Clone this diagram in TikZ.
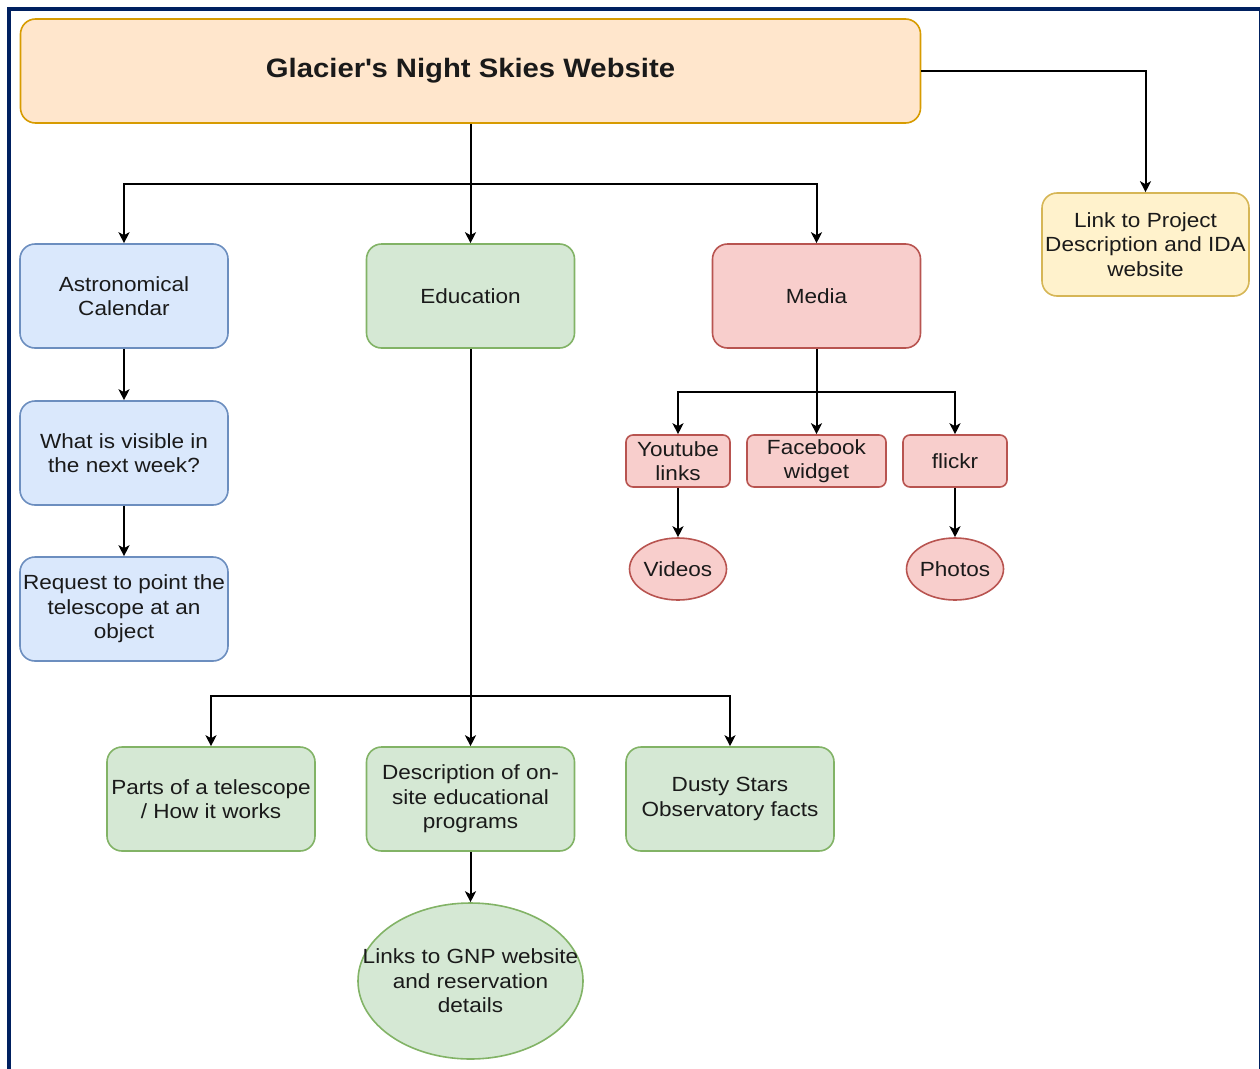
\documentclass[tikz,border=0pt]{standalone}
\usepackage{fontspec}
\setmainfont{Liberation Sans}[FakeStretch=1.1]
\usetikzlibrary{arrows.meta,shapes.geometric}
\definecolor{orfill}{HTML}{FFE6CC}\definecolor{ordraw}{HTML}{D79B00}
\definecolor{yefill}{HTML}{FFF2CC}\definecolor{yedraw}{HTML}{D6B656}
\definecolor{blfill}{HTML}{DAE8FC}\definecolor{bldraw}{HTML}{6C8EBF}
\definecolor{grfill}{HTML}{D5E8D4}\definecolor{grdraw}{HTML}{82B366}
\definecolor{rdfill}{HTML}{F8CECC}\definecolor{rddraw}{HTML}{B85450}
\definecolor{navy}{HTML}{002060}
\definecolor{txt}{HTML}{1A1A1A}
\tikzset{
  box/.style={draw, line width=1.6pt, rounded corners=15pt, align=center, inner sep=0pt,
    minimum width=208pt, minimum height=104pt, text=txt,
    font=\fontsize{20.5}{24.5}\selectfont},
  smallbox/.style={box, rounded corners=7pt, minimum height=52pt},
  oval/.style={draw, ellipse, line width=1.6pt, inner sep=0pt},
  lbl/.style={align=center, inner sep=0pt, text=txt, font=\fontsize{20.5}{24.5}\selectfont},
  blue/.style={fill=blfill, draw=bldraw},
  green/.style={fill=grfill, draw=grdraw},
  red/.style={fill=rdfill, draw=rddraw},
  arr/.style={draw=black, line width=2pt, -{Stealth[length=11pt,width=11pt,inset=3pt]}},
}
\begin{document}
\begin{tikzpicture}[x=1pt,y=-1pt]
\useasboundingbox (0,0) rectangle (1260,1068);
\begin{scope}
\clip (0,0) rectangle (1260,1068);
\draw[navy, line width=4pt] (9,1090) -- (9,9) -- (1261,9) -- (1261,1090);
\end{scope}

\node[box, fill=orfill, draw=ordraw, minimum width=900pt, font=\bfseries\fontsize{26.6}{30}\selectfont] (title) at (470.5,71) {\raisebox{-2.5pt}{Glacier\textquotesingle s Night Skies Website}};
\node[box, fill=yefill, draw=yedraw, minimum width=207pt, minimum height=103pt] (link) at (1145.5,244.5) {Link to Project\\Description and IDA\\website};

\node[box, blue] (astro) at (124,296) {Astronomical\\Calendar};
\node[box, green] (edu) at (470.5,296) {Education};
\node[box, red] (media) at (816.5,296) {Media};

\node[box, blue] (visible) at (124,453) {What is visible in\\the next week?};
\node[box, blue] (request) at (124,609) {Request to point the\\telescope at an\\object};

\node[smallbox, red, minimum width=104pt] (yt) at (678,461) {Youtube\\links};
\node[smallbox, red, minimum width=139pt] (fb) at (816.5,461) {Facebook\\widget};
\node[smallbox, red, minimum width=104pt] (fl) at (955,461) {flickr};

\node[oval, red, minimum width=97pt, minimum height=62pt] (videos) at (678,569) {};
\node[lbl] (videostext) at (videos.center) {Videos};
\node[oval, red, minimum width=97pt, minimum height=62pt] (photos) at (955,569) {};
\node[lbl] (photostext) at (photos.center) {Photos};

\node[box, green] (parts) at (211,799) {Parts of a telescope\\/ How it works};
\node[box, green] (desc) at (470.5,799) {Description of on-\\site educational\\programs};
\node[box, green] (dusty) at (730,799) {Dusty Stars\\Observatory facts};

\node[oval, green, minimum width=225pt, minimum height=156pt] (gnp) at (470.5,981) {};
\node[lbl] (gnptext) at (gnp.center) {Links to GNP website\\and reservation\\details};

\coordinate (bus1) at (470.5,184);
\coordinate (bus2) at (816.5,392);
\coordinate (bus3) at (470.5,696);

\draw[arr] (title.east) -| (link.north);
\draw[arr] (title.south) -- (edu.north);
\draw[arr] (bus1) -| (astro.north);
\draw[arr] (bus1) -| (media.north);
\draw[arr] (astro.south) -- (visible.north);
\draw[arr] (visible.south) -- (request.north);
\draw[arr] (media.south) -- (fb.north);
\draw[arr] (bus2) -| (yt.north);
\draw[arr] (bus2) -| (fl.north);
\draw[arr] (yt.south) -- (videos.north);
\draw[arr] (fl.south) -- (photos.north);
\draw[arr] (edu.south) -- (desc.north);
\draw[arr] (bus3) -| (parts.north);
\draw[arr] (bus3) -| (dusty.north);
\draw[arr] (desc.south) -- (gnp.north);
\end{tikzpicture}
\end{document}
